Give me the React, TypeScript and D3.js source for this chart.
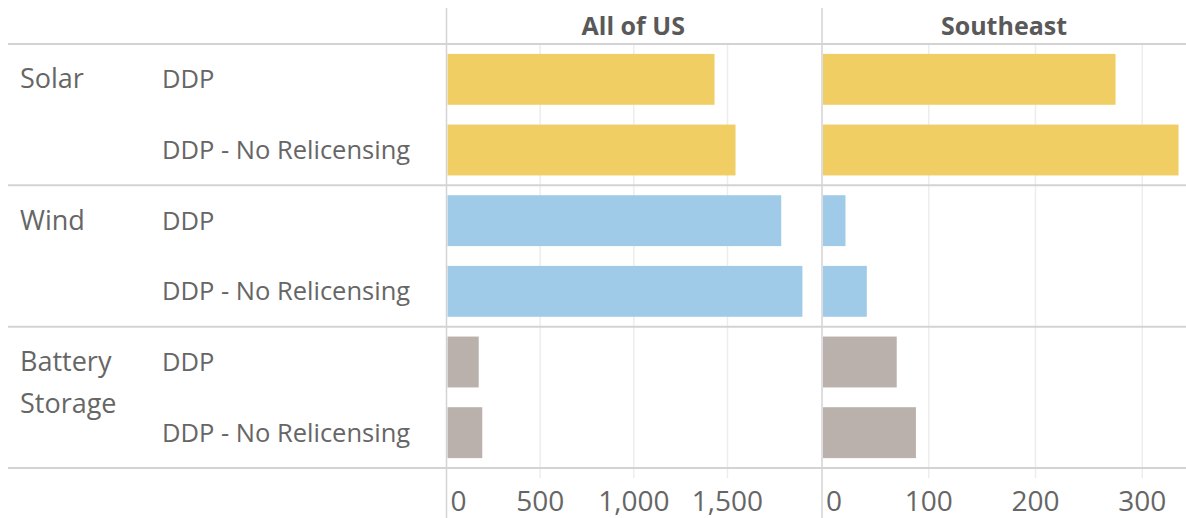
import React from "react";
import * as d3 from "d3";

const categories = ["Solar", "Wind", "Battery Storage"];
const scenarios = ["DDP", "DDP - No Relicensing"];
const allUS = [1431, 1543, 1787, 1900, 172, 191];
const southeast = [275, 334, 22, 42, 70, 88];
const usTicks = [0, 500, 1000, 1500];
const seTicks = [0, 100, 200, 300];
const colors = ["#F1CE63", "#A0CBE8", "#BAB0AC"];

const W = 1186;
const H = 518;
const top = 44;
const bottom = 468;
const font = "'Open Sans', 'Noto Sans', sans-serif";

export default function App() {
  const rows = categories.flatMap((c, ci) => scenarios.map((s, si) => ({ key: `${ci}-${si}`, ci, si, c, s })));
  const y = d3
    .scaleBand<string>()
    .domain(rows.map((r) => r.key))
    .range([top, bottom])
    .paddingInner(0.28)
    .paddingOuter(0.14);
  const step = y.step();
  const xUS = d3.scaleLinear().domain([0, 1994]).range([446.5, 820]);
  const xSE = d3.scaleLinear().domain([0, 341]).range([822, 1186]);
  const fmt = d3.format(",");

  const panels = [
    { x: xUS, data: allUS, ticks: usTicks, title: "All of US" },
    { x: xSE, data: southeast, ticks: seTicks, title: "Southeast" },
  ];

  return (
    <svg width={W} height={H} style={{ position: "absolute", left: 0, top: 0, display: "block" }}>
      <rect width={W} height={H} fill="#fff" />
      {/* gridlines */}
      {panels.map((p, pi) =>
        p.ticks.slice(1).map((t) => (
          <line key={`g${pi}-${t}`} x1={p.x(t)} x2={p.x(t)} y1={top} y2={bottom + 10} stroke="#ededed" strokeWidth={1.5} />
        ))
      )}
      {/* bars */}
      {panels.map((p, pi) =>
        rows.map((r, i) => (
          <rect
            key={`b${pi}-${r.key}`}
            x={p.x(0) + 1}
            y={y(r.key)!}
            width={Math.max(0, p.x(p.data[i]) - p.x(0) - 1)}
            height={y.bandwidth()}
            fill={colors[r.ci]}
          />
        ))
      )}
      {/* horizontal separators */}
      {[0, 1, 2, 3].map((k) => {
        const yy = top + k * 2 * step;
        return <line key={`h${k}`} x1={8} x2={W} y1={yy} y2={yy} stroke="#d3d3d3" strokeWidth={2} />;
      })}
      {/* vertical dividers */}
      {panels.map((p, pi) => (
        <line key={`v${pi}`} x1={p.x(0)} x2={p.x(0)} y1={8} y2={H} stroke="#d3d3d3" strokeWidth={1.5} />
      ))}
      {/* headers */}
      {panels.map((p, pi) => {
        const [a, b] = p.x.range();
        return (
          <text key={`t${pi}`} x={(a + b) / 2} y={35} textAnchor="middle" fontFamily={font} fontWeight={700} fontSize={25} fill="#595959">
            {p.title}
          </text>
        );
      })}
      {/* category labels */}
      {categories.map((c, ci) => {
        const c0 = y(`${ci}-0`)! + y.bandwidth() / 2 + 9;
        const words = ci === 2 ? c.split(" ") : [c];
        return words.map((w, wi) => (
          <text key={`c${ci}-${wi}`} x={20} y={c0 + wi * 42} fontFamily={font} fontSize={27} fill="#666">
            {w}
          </text>
        ));
      })}
      {/* scenario labels */}
      {rows.map((r) => (
        <text key={`s${r.key}`} x={162} y={y(r.key)! + y.bandwidth() / 2 + 9} fontFamily={font} fontSize={25.5} fill="#666">
          {r.s}
        </text>
      ))}
      {/* tick labels */}
      {panels.map((p, pi) =>
        p.ticks.map((t) => (
          <text
            key={`l${pi}-${t}`}
            x={t === 0 ? p.x(0) + 4 : p.x(t)}
            y={511}
            textAnchor={t === 0 ? "start" : "middle"}
            fontFamily={font}
            fontSize={28}
            fill="#666"
          >
            {fmt(t)}
          </text>
        ))
      )}
    </svg>
  );
}
